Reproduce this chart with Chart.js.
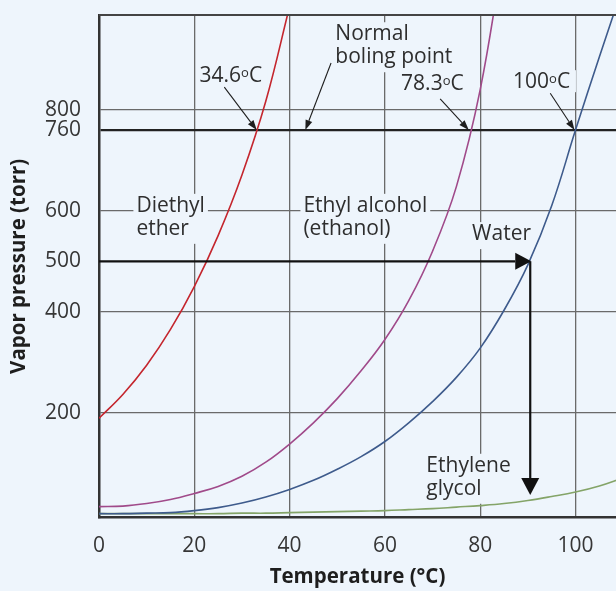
<!DOCTYPE html>
<html>
<head>
<meta charset="utf-8">
<script src="https://cdn.jsdelivr.net/npm/chart.js@4"></script>
<style>
  html, body { margin: 0; padding: 0; background: #eef5fc; }
  #wrap { width: 616px; height: 591px; }
</style>
</head>
<body>
<div id="wrap"><canvas id="myChart" width="616" height="591"></canvas></div>
<script>
// temperatures (°C) the curves were read at
const temps = [0, 5, 10, 15, 20, 25, 30, 35, 40, 45, 50, 55, 60, 65, 70, 75, 80, 85, 90, 95, 100, 105, 110];

// vapor pressure (torr)
const diethylEther = [189, 236, 294, 365, 450, 551, 671, 817, 1005, null, null, null, null, null, null, null, null, null, null, null, null, null, null];
const ethanol = [14, 15, 20, 28, 40, 54, 74, 102, 138, 180, 228, 283, 345, 422, 520, 648, 840, 1120, null, null, null, null, null];
const water = [0, 0, 1, 2, 6, 12, 21, 33, 48, 66, 88, 113, 143, 180, 222, 270, 328, 403, 493, 610, 760, 905, 1045];
const ethyleneGlycol = [0, 0, 0, 0, 0, 0, 1, 1, 2, 3, 4, 5, 6, 8, 10, 13, 16, 20, 26, 34, 43, 55, 71];

const xTicks = [0, 20, 40, 60, 80, 100];
const yTicks = [200, 400, 500, 600, 760, 800];

const BG = '#eef5fc';
const FONT = '"Open Sans", "DejaVu Sans", sans-serif';

function pts(vals) {
  const out = [];
  temps.forEach((t, i) => { if (vals[i] !== null) out.push({ x: t, y: vals[i] }); });
  return out;
}

// text labels in data units (left x, baseline of first line)
const textLabels = [
  { lines: ['Diethyl', 'ether'], t: 7.85, p: 598 },
  { lines: ['Ethyl alcohol', '(ethanol)'], t: 42.9, p: 598 },
  { lines: ['Water'], t: 78.3, p: 542 },
  { lines: ['Ethylene', 'glycol'], t: 68.7, p: 83 },
  { lines: ['Normal', 'boling point'], t: 49.6, p: 938 }
];
const degLabels = [
  { pre: '34.6', t: 21.1, p: 856, from: [26.3, 845], to: [33.1, 760] },
  { pre: '78.3', t: 63.4, p: 839, from: [71.6, 822], to: [77.6, 760] },
  { pre: '100', t: 86.9, p: 843, from: [94.7, 833], to: [99.8, 760] }
];
const normalArrow = { from: [48.7, 893], to: [43.3, 760] };
const exampleT = 90.5, exampleP = 500, exampleEnd = 37;

function arrow(ctx, x1, y1, x2, y2, len, wid, lw) {
  const a = Math.atan2(y2 - y1, x2 - x1);
  const bx = x2 - len * Math.cos(a), by = y2 - len * Math.sin(a);
  ctx.lineWidth = lw;
  ctx.beginPath(); ctx.moveTo(x1, y1); ctx.lineTo(bx, by); ctx.stroke();
  ctx.beginPath();
  ctx.moveTo(x2, y2);
  ctx.lineTo(bx + wid / 2 * Math.sin(a), by - wid / 2 * Math.cos(a));
  ctx.lineTo(bx - wid / 2 * Math.sin(a), by + wid / 2 * Math.cos(a));
  ctx.closePath(); ctx.fill();
}

const annotations = {
  id: 'annotations',
  beforeDatasetsDraw(chart) {
    const { ctx, scales: { x, y } } = chart;
    ctx.save();
    ctx.font = '21px ' + FONT;
    ctx.fillStyle = BG;
    textLabels.forEach(l => {
      const lx = x.getPixelForValue(l.t), ly = y.getPixelForValue(l.p);
      const w = Math.max(...l.lines.map(s => ctx.measureText(s).width));
      ctx.fillRect(lx - 3, ly - 18, w + 6, 23 * l.lines.length + 4);
    });
    degLabels.forEach(l => {
      const lx = x.getPixelForValue(l.t), ly = y.getPixelForValue(l.p);
      ctx.fillRect(lx - 3, ly - 18, ctx.measureText(l.pre + 'oC').width + 4, 22);
    });
    ctx.restore();
  },
  afterDatasetsDraw(chart) {
    const { ctx, chartArea: ca, scales: { x, y } } = chart;
    ctx.save();
    // top frame
    ctx.strokeStyle = '#444';
    ctx.lineWidth = 2;
    ctx.beginPath(); ctx.moveTo(ca.left, ca.top); ctx.lineTo(ca.right, ca.top); ctx.stroke();

    ctx.fillStyle = '#2e2e2e';
    ctx.font = '21px ' + FONT;
    ctx.textBaseline = 'alphabetic';
    ctx.textAlign = 'left';
    textLabels.forEach(l => {
      const lx = x.getPixelForValue(l.t), ly = y.getPixelForValue(l.p);
      l.lines.forEach((s, i) => ctx.fillText(s, lx, ly + i * 23));
    });
    degLabels.forEach(l => {
      const lx = x.getPixelForValue(l.t), ly = y.getPixelForValue(l.p);
      ctx.font = '21px ' + FONT;
      ctx.fillText(l.pre, lx, ly);
      let w = ctx.measureText(l.pre).width;
      ctx.font = '13px ' + FONT;
      ctx.fillText('o', lx + w, ly - 5);
      w += ctx.measureText('o').width;
      ctx.font = '21px ' + FONT;
      ctx.fillText('C', lx + w, ly);
    });

    ctx.strokeStyle = '#1e1e1e';
    ctx.fillStyle = '#1e1e1e';
    const thin = [...degLabels, normalArrow];
    thin.forEach(a => {
      arrow(ctx, x.getPixelForValue(a.from[0]), y.getPixelForValue(a.from[1]),
        x.getPixelForValue(a.to[0]), y.getPixelForValue(a.to[1]), 10, 7, 1.1);
    });

    // 500 torr example: across to water, then down to the axis
    const ex = x.getPixelForValue(exampleT), ey = y.getPixelForValue(exampleP);
    ctx.strokeStyle = '#111'; ctx.fillStyle = '#111';
    arrow(ctx, ca.left, ey, ex + 1, ey, 16, 17, 2.2);
    arrow(ctx, ex, ey, ex, y.getPixelForValue(exampleEnd), 17, 18, 2.2);
    ctx.restore();
  }
};

const ctx = document.getElementById('myChart');

new Chart(ctx, {
  type: 'line',
  data: {
    datasets: [
      { label: 'Diethyl ether', data: pts(diethylEther), borderColor: '#c4262e' },
      { label: 'Ethyl alcohol', data: pts(ethanol), borderColor: '#a04a8a' },
      { label: 'Water', data: pts(water), borderColor: '#3e5b8c' },
      { label: 'Ethylene glycol', data: pts(ethyleneGlycol), borderColor: '#84a468' }
    ].map(d => Object.assign(d, { borderWidth: 1.6, pointRadius: 0, tension: 0.4, fill: false }))
  },
  options: {
    responsive: false,
    animation: false,
    devicePixelRatio: 1,
    layout: { padding: { top: 15, left: 0, right: 0, bottom: 0 } },
    plugins: { legend: { display: false }, tooltip: { enabled: false } },
    scales: {
      x: {
        type: 'linear',
        min: 0,
        max: 108.5,
        afterBuildTicks: s => { s.ticks = xTicks.map(v => ({ value: v })); },
        afterFit: s => { s.height = 73.3; s.paddingLeft = 0; s.paddingRight = 0; },
        grid: { color: '#6a6a6a', lineWidth: 1.3, drawTicks: false },
        border: { color: '#333', width: 2.5 },
        ticks: { autoSkip: false, maxRotation: 0, padding: 16, color: '#363636', font: { family: FONT, size: 21 } },
        title: { display: true, text: 'Temperature (°C)', color: '#1e1e1e', font: { family: FONT, size: 20.5, weight: 'bold' }, padding: { top: 0, bottom: 2 } }
      },
      y: {
        type: 'linear',
        min: -8,
        max: 988,
        afterBuildTicks: s => { s.ticks = yTicks.map(v => ({ value: v })); },
        afterFit: s => { s.width = 99; s.paddingTop = 0; s.paddingBottom = 0; },
        grid: {
          drawTicks: false,
          color: c => c.tick && c.tick.value === 500 ? 'rgba(0,0,0,0)' : (c.tick && c.tick.value === 760 ? '#222' : '#6a6a6a'),
          lineWidth: c => c.tick && c.tick.value === 760 ? 2.2 : 1.3
        },
        border: { color: '#333', width: 2.5 },
        ticks: { autoSkip: false, padding: 18, color: '#363636', font: { family: FONT, size: 21 } },
        title: { display: true, text: 'Vapor pressure (torr)', color: '#1e1e1e', font: { family: FONT, size: 20.5, weight: 'bold' }, padding: { top: 7, bottom: 0 } }
      }
    }
  },
  plugins: [annotations]
});
</script>
</body>
</html>
